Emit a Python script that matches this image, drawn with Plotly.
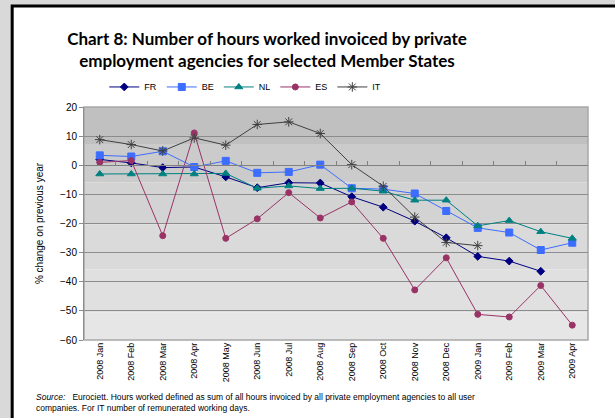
import plotly.graph_objects as go

months = ["2008 Jan", "2008 Feb", "2008 Mar", "2008 Apr", "2008 May", "2008 Jun", "2008 Jul",
          "2008 Aug", "2008 Sep", "2008 Oct", "2008 Nov", "2008 Dec", "2009 Jan", "2009 Feb",
          "2009 Mar", "2009 Apr"]

fr = [2.0, 0.8, -0.8, -0.6, -4.0, -7.7, -6.0, -6.1, -10.8, -14.4, -19.2, -24.9, -31.3, -32.9, -36.4, None]
be = [3.4, 3.0, 4.8, -0.6, 1.5, -2.6, -2.3, 0.2, -7.9, -8.2, -9.7, -15.7, -21.5, -23.1, -29.1, -26.6]
nl = [-3.0, -3.0, -3.0, -3.0, -2.8, -7.9, -7.1, -8.0, -7.9, -8.9, -12.0, -12.0, -20.8, -19.0, -22.8, -25.1]
es = [1.0, 1.6, -24.2, 11.1, -25.1, -18.4, -9.4, -18.1, -12.6, -25.1, -42.8, -31.8, -51.2, -52.1, -41.3, -54.9]
it = [8.8, 7.1, 4.9, 9.4, 6.9, 14.0, 14.9, 10.9, 0.2, -7.2, -17.8, -26.5, -27.6, None, None, None]

y_ticks = [20, 10, 0, -10, -20, -30, -40, -50, -60]

series = [
    ("FR", fr, "#000080", "diamond", 6),
    ("BE", be, "#3d6dff", "square", 7),
    ("NL", nl, "#008080", "triangle-up", 7),
    ("ES", es, "#993366", "circle", 6),
    ("IT", it, "#404040", "asterisk-open", 8),
]

fig = go.Figure()
for name, vals, col, sym, sz in series:
    fig.add_trace(go.Scatter(
        x=list(range(len(months))), y=vals, name=name, mode="lines+markers",
        line=dict(color=col, width=1),
        marker=dict(symbol=sym, size=sz, color=col, line=dict(color=col, width=1)),
        connectgaps=False,
    ))

# plot-area background bands (Excel gradient look)
bands = [(20, 7.3, "#c0c0c0"), (7.3, -5.8, "#cbcbcb"), (-5.8, -20.3, "#d3d3d3"),
         (-20.3, -35.7, "#dadada"), (-35.7, -50.5, "#e0e0e0"), (-50.5, -60, "#e6e6e6")]
shapes = [
    dict(type="rect", xref="paper", yref="paper", x0=-0.1425, x1=1.2, y0=-0.6, y1=1.4335,
         fillcolor="white", line=dict(color="black", width=3), layer="below"),
]
for y0, y1, c in bands:
    shapes.append(dict(type="rect", xref="paper", yref="y", x0=0, x1=1, y0=y1, y1=y0,
                       fillcolor=c, line=dict(width=0), layer="below"))
shapes.append(dict(type="rect", xref="paper", yref="paper", x0=0, x1=1, y0=0, y1=1,
                   fillcolor="rgba(0,0,0,0)", line=dict(color="#a8a8a8", width=1.5), layer="below"))

annotations = [
    dict(text="<i>Source:</i>   Eurociett. Hours worked defined as sum of all hours invoiced by all private employment agencies to all user<br>companies. For IT number of remunerated working days.",
         xref="paper", yref="paper", x=-0.1, y=-0.215, xanchor="left", yanchor="top",
         align="left", showarrow=False, font=dict(family="Liberation Sans, Arial", size=8.5, color="black")),
]

fig.update_layout(
    width=615, height=418,
    margin=dict(l=84, r=27, t=107, b=78),
    paper_bgcolor="#d9d9d9",
    plot_bgcolor="rgba(0,0,0,0)",
    shapes=shapes,
    annotations=annotations,
    title=dict(text="<b>Chart 8: Number of hours worked invoiced by private<br>employment agencies for selected Member States</b>",
               x=(267 - 84) / 504, xref="paper", xanchor="center", y=1 - 44.5 / 418, yanchor="middle",
               font=dict(family="Lato", size=17, color="black")),
    legend=dict(orientation="h", x=0.32, xanchor="center", y=1.086, yanchor="middle",
                font=dict(family="Liberation Sans, Arial", size=9, color="black"),
                bgcolor="rgba(0,0,0,0)", itemwidth=30, tracegroupgap=0),
    xaxis=dict(range=[-0.5, 15.5], tickmode="array", tickvals=list(range(len(months))),
               ticktext=months, tickangle=-90, showgrid=False, zeroline=False,
               showline=False, ticks="",
               tickfont=dict(family="Liberation Sans, Arial", size=9, color="black")),
    xaxis2=dict(overlaying="x", anchor="free", position=0.75, side="bottom",
                range=[-0.5, 15.5], tickmode="array", tickvals=[i + 0.5 for i in range(15)],
                showticklabels=False, ticks="inside", ticklen=4, tickcolor="#808080",
                showline=True, linecolor="#808080", linewidth=1, showgrid=False, zeroline=False),
    yaxis=dict(range=[-60, 20], tickmode="array", tickvals=y_ticks, showgrid=True,
               gridcolor="#8c8c8c", gridwidth=1, zeroline=False, showline=True,
               linecolor="#8c8c8c", linewidth=1, ticks="outside", ticklen=4, tickcolor="#8c8c8c",
               title=dict(text="% change on previous year", standoff=14,
                          font=dict(family="Liberation Sans, Arial", size=10, color="black")),
               tickfont=dict(family="Liberation Sans, Arial", size=10, color="black")),
)
# dummy trace to show xaxis2
fig.add_trace(go.Scatter(x=[0], y=[None], xaxis="x2", showlegend=False, hoverinfo="skip"))

fig.write_html("out.html", config={"displayModeBar": False},
               post_script="document.body.style.margin='0';document.body.style.background='#d9d9d9';")
